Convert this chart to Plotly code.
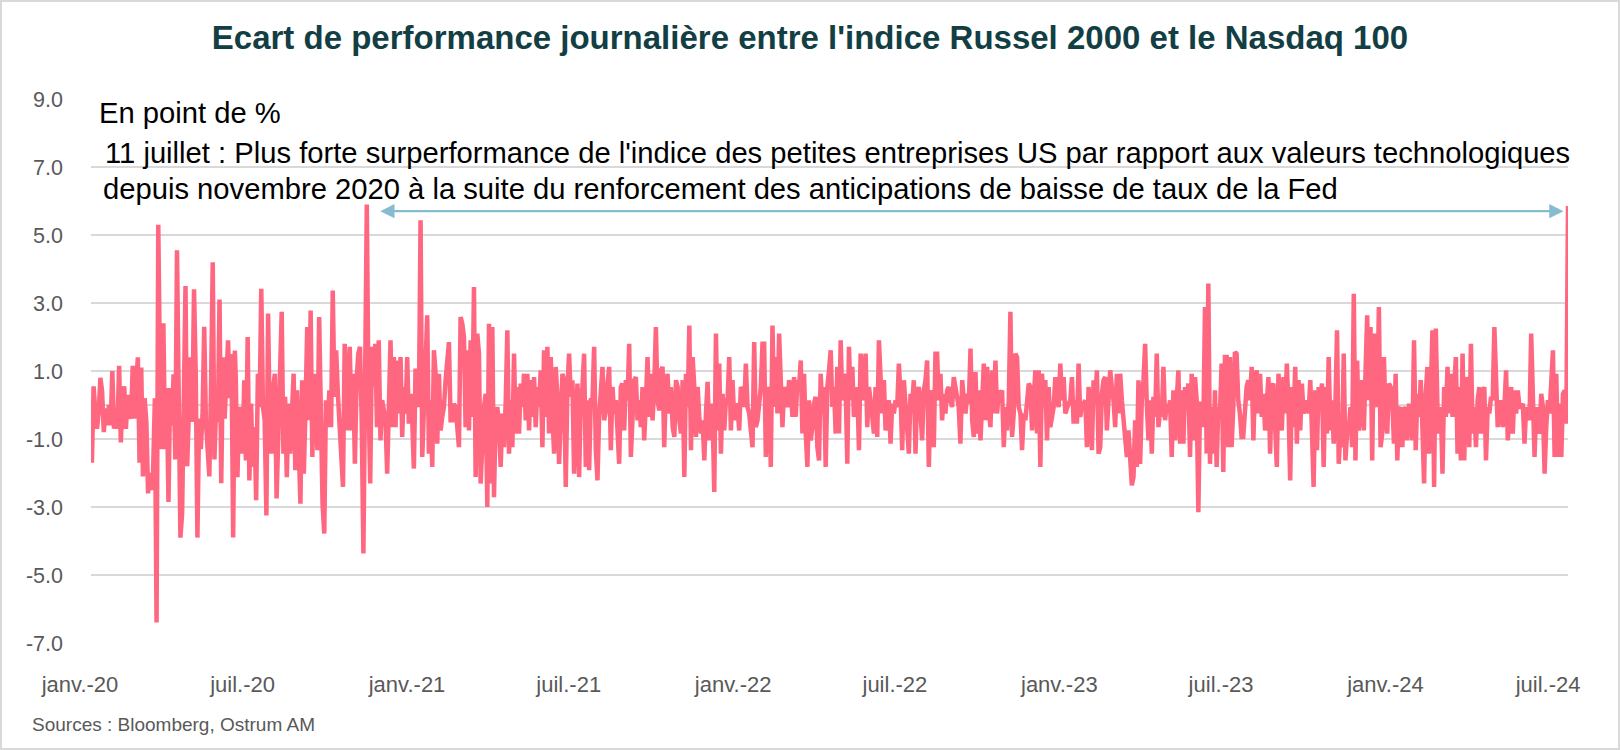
import pandas as pd
import plotly.graph_objects as go

# ---- data: daily spread Russell 2000 - Nasdaq 100 (points of %) ----
seg_a_dates = ("2020-01-02", "2020-06-10")
seg_a = [-1.7, 0.55, -0.2, -0.7, -0.2, 0.8, 0.4, -0.8, -0.1, -0.6, 0.0, -0.6, 1.0, -0.7, -0.2, -0.7,
         1.15, -1.1, 0.2, 0.55, -0.7, 0.3, -0.2, -0.4, 1.15, -0.4, 0.6, 1.4, -1.7, 1.1, -2.1, 0.2,
         -0.5, -2.6, -2.0, -2.5, -1.9, 0.2, -6.4, 5.3, 1.0, -1.3, 2.4, -1.3, 0.5, -2.85, 0.5, -0.6,
         0.9, -1.6, 4.55, -1.7, -3.9, -3.2, 0.5, 3.5, -1.8, 0.3, 1.4, -0.5, 3.4, 1.0, -3.9, -0.4,
         -1.3, -0.3, 2.3, -0.5, -1.4, -2.1, 0.5, 4.2, -1.6, 0.0, -0.5, 3.1, -2.3, 1.4, -0.4, 0.5,
         1.9, 0.2, 1.5, -3.9, 1.6]

seg_b_dates = ("2020-06-11", "2020-11-18")
seg_b = [0.82, -2.12, -0.06, -0.25, -1.43, 0.73, -1.63, 2.0, -2.22, 0.04, -1.82, -0.65, -2.8, 0.92,
         -0.06, 3.42, -0.06, -0.45, -3.25, 2.69, -0.65, -1.43, 0.53, 0.92, -2.75, -0.45, 1.71, 2.74,
         -1.43, 0.24, -2.12, 0.04, -1.43, -0.35, 0.92, -1.92, 0.43, -1.24, -2.9, 0.73, -2.02, -0.06,
         2.29, -0.45, 2.78, -1.53, 0.92, -0.25, -1.33, 2.59, -1.33, -2.9, -3.78, 0.14, -0.65, 0.43,
         -0.65, 3.37, 0.24, 1.61, 0.33, -0.84, -1.73, -2.41, 1.8, -0.06, -0.75, 1.71, -0.75, 0.92,
         -1.73, 0.73, 1.51, 1.71, -0.45, -4.37, 1.71, 5.9, 0.24, -2.31, 1.71, 0.53, 1.8, -0.65, 1.9]

seg_c_dates = ("2020-11-20", "2021-10-11")
seg_c = [-1.04, 0.14, -0.25, -0.45, -2.02, 0.24, 1.9, -0.65, 1.41, -0.65, 1.31, -0.25, 1.41, -0.94,
         0.53, -0.25, 1.41, -0.55, 0.33, -0.45, -1.87, 1.07, 0.14, -0.06, 5.43, -1.53, 0.14, 1.31,
         2.64, -1.43, 0.14, -1.82, 1.61, 0.92, -1.14, 0.92, -0.75, -0.35, -0.06, 0.73, 1.22, 1.85,
         -0.45, -0.45, 0.04, -0.06, -0.65, -1.24, 2.59, 2.39, 2.0, -0.65, 1.61, -0.75, 1.9, -0.35,
         3.47, -2.12, 2.1, 1.51, -2.31, -0.65, -0.06, 0.33, -3.0, 2.39, -2.31, 2.29, -2.71, -0.25,
         -0.06, -0.65, -1.82, -0.25, -1.24, 0.04, 2.2, -1.43, 0.14, -1.24, 1.51, -0.84, 0.53, -0.84,
         0.63, -0.06, 0.92, -0.45, 0.92, -0.75, 0.73, -0.35, 0.82, -0.65, 0.53, -0.06, 1.02, -1.24,
         1.61, -0.35, 1.71, -0.84, 1.41, -0.25, -1.43, 1.12, 0.24, -1.73, -0.35, 0.92, 0.73, -2.41,
         0.53, 1.51, 0.24, 0.73, -2.02, -0.25, 0.63, -2.12, 0.14, 0.53, 1.51, -1.82, 0.14, -1.92,
         0.14, 0.14, 1.71, -1.33, -2.22, -0.35, 0.33, 1.12, -0.45, -0.16, 0.63, 1.12, -1.33, 0.53,
         -0.25, 0.14, -0.75, -1.73, 0.53, 0.63, -0.75, 0.73, 0.14, 1.8, -1.53, -0.25, 0.73, 0.82,
         -0.45, 0.14, -0.65, 0.53, -1.04, 0.04, 1.41, -0.35, 0.92, -0.45, 0.53, 2.29, 0.14, -0.16,
         1.02, 1.12, -1.24, 0.53, 0.92, -0.25, 0.53]

seg_d_dates = ("2021-10-13", "2022-08-31")
seg_d = [-0.65, -0.94, 0.73, 0.53, -0.45, -0.84, 0.73, -2.12, 0.92, -0.06, 2.34, -1.33, 1.41, 0.53,
         -0.94, 0.53, -0.35, -0.84, -0.45, -1.63, -0.25, 0.68, -1.04, 0.04, -0.25, -2.56, 2.1, -0.75,
         1.22, -1.43, 0.33, -0.75, 0.14, 0.14, 1.41, -0.75, 0.73, -0.45, 0.04, -0.06, -0.75, 0.53,
         0.43, -0.06, 1.22, -0.06, -0.25, -0.75, -1.24, 1.85, -0.65, -0.45, 0.04, 0.53, 1.8, 1.8,
         -1.53, 0.53, 0.24, -1.82, 2.34, -0.06, 1.41, -0.25, 2.1, 0.53, -0.65, 0.53, 0.14, -0.06,
         0.73, 0.53, -0.35, 0.82, -0.35, 0.73, 0.53, 1.31, -0.84, 0.92, -0.84, -1.82, 0.14, -1.04,
         -0.65, 0.04, 0.24, -1.24, -1.63, 0.92, -0.25, 0.53, -1.82, 0.53, 1.02, 1.61, -0.06, 0.53,
         -0.84, 1.12, -0.84, 1.9, 0.14, 0.92, 0.53, -1.73, 1.71, 0.14, 1.12, -0.35, -0.06, 0.53,
         -1.33, 1.51, 0.14, 0.73, 1.51, -0.65, 0.53, 0.14, -0.25, -0.84, 0.53, -0.94, 1.9, 0.53,
         -0.25, 0.73, -0.75, -0.06, 0.14, -1.14, 0.04, -0.25, 0.14, -0.06, 1.22, 0.33, -1.33, 0.73,
         0.04, -0.65, -1.43, 0.33, 0.04, 0.73, -1.43, 0.33, 0.53, -0.25, -1.04, 0.43, 0.73, 1.31,
         -1.82, 0.14, 0.43, -1.24, 1.51, 1.51, 0.14, 0.92, -0.45, 0.33, -0.25, 0.43, 0.53, 0.14,
         -0.06, 0.82, 0.53, 0.14, -0.06, -1.14]

seg_e_dates = ("2022-09-02", "2023-07-21")
seg_e = [0.73, 0.14, -0.25, 0.33, 0.04, 1.66, -0.45, -0.94, 0.97, -0.84, 0.43, -1.04, 0.14, 1.22,
         -0.45, 1.12, -0.16, -0.65, 1.02, -0.25, 1.31, -0.25, 0.43, 0.24, 0.43, -1.24, -0.06, -0.75,
         0.14, 2.74, -0.94, -0.25, 1.51, 1.41, -0.06, -0.25, -1.33, -0.25, -0.45, 0.14, 0.63, 0.53,
         -0.75, 0.14, 1.02, -0.84, 1.02, -1.82, 0.92, -0.06, 0.73, -1.04, 0.53, -0.65, -0.25, -0.06,
         0.82, 0.14, -0.06, 1.22, 0.14, 0.82, -0.25, -0.06, 0.04, 0.14, 0.82, -0.55, 0.14, -0.55,
         1.22, -0.35, 0.04, 0.04, 0.14, -1.24, 0.53, -0.35, -1.33, 0.73, 0.14, 1.02, -1.43, -1.24,
         0.33, 0.73, 0.82, -0.75, 0.43, 1.02, 0.53, 0.14, -0.65, 0.92, -0.25, 0.92, 0.14, -0.45,
         -0.84, -1.53, -0.75, -1.82, -2.36, -2.12, -0.45, -1.82, 0.73, -1.73, 0.14, 0.73, 1.8, 0.04,
         -1.04, 0.14, -1.43, 0.24, -0.35, 1.51, -0.65, -0.16, -0.35, 1.12, -0.45, 0.04, -0.25, 0.14,
         -1.53, 0.43, -1.04, 0.14, 1.02, -1.14, 0.43, -1.14, 0.53, 0.14, 0.63, -1.53, 0.92, -1.04,
         0.82, 0.14, -3.15, 0.04, 0.04, -0.65, 2.88, -1.43, 3.57, -1.73, -0.06, -1.43, 0.43, -1.82,
         -0.06, -0.25, 1.22, -1.97, 1.41, 1.41, -1.24, 1.41, -1.24, -0.06, 1.56, 1.51, 0.14, -0.25,
         -0.94, -0.94, -0.06, 0.53, 0.73, 0.14]

seg_f_dates = ("2023-07-23", "2024-07-11")
seg_f = [1.12, -1.04, 0.73, 1.02, -0.25, 0.92, -0.35, 0.33, -0.75, 0.04, 0.82, -1.43, 0.53, 0.63,
         -0.65, -1.82, 0.92, 0.14, -0.75, 0.82, -0.25, 1.22, -0.06, -2.22, 0.53, -0.65, 1.12, -1.14,
         0.73, -0.75, 0.63, -0.25, -0.06, 0.14, -0.25, 0.73, -0.75, -2.41, 0.43, -1.33, 0.53, 0.14,
         0.63, -1.82, 0.53, -0.84, 1.41, -0.75, 0.14, -1.14, -0.06, 2.2, -1.73, -0.75, -1.24, 1.51,
         -1.63, -0.84, -0.75, -0.06, -1.24, 3.27, -1.63, 1.31, -0.75, 0.14, 0.73, -0.75, 0.73, 2.64,
         0.14, 2.29, -1.63, 2.1, 0.24, -0.06, 2.88, -1.24, -0.84, 1.41, -0.35, -0.84, 0.63, 0.53,
         0.14, -1.14, 0.92, -1.63, -0.16, -0.06, -1.24, -0.16, -0.06, -1.04, 0.04, -0.25, -1.04, 1.9,
         -1.33, 0.33, -0.35, 0.73, -0.65, -2.31, 0.33, 1.12, -1.43, 1.31, 2.2, -2.41, 2.25, -0.06,
         -0.84, -0.06, -2.02, 0.53, -0.35, 1.12, -0.25, 0.92, -0.35, 0.53, 1.41, -1.43, 0.53, -1.63,
         1.51, -1.63, 0.53, 0.82, -1.24, 1.8, -0.84, -0.06, -1.24, 0.14, 0.53, -0.84, 0.33, 0.53,
         -1.63, -0.06, -0.25, 0.24, 0.14, 2.29, 0.24, -0.65, -0.25, 0.14, -0.65, -0.06, 1.02, -1.04,
         -0.45, 0.53, -0.84, 0.43, -0.25, 0.43, -0.06, -0.06, 0.04, -1.14, -0.06, -0.25, -0.45, 2.1,
         -0.06, -1.53, -0.06, -0.65, -0.84, 0.33, -0.06, -2.02, -0.65, 0.14, -0.25, 0.53, 1.61, -1.53,
         0.92, -1.53, 0.04, -1.53, 0.33, 0.43, -0.55, 5.85]

tick_dates = ["2020-01-01", "2020-07-01", "2021-01-01", "2021-07-01", "2022-01-01",
              "2022-07-01", "2023-01-01", "2023-07-01", "2024-01-01", "2024-07-01"]
tick_labels = ["janv.-20", "juil.-20", "janv.-21", "juil.-21", "janv.-22",
               "juil.-22", "janv.-23", "juil.-23", "janv.-24", "juil.-24"]
y_ticks = [-7, -5, -3, -1, 1, 3, 5, 7, 9]

arrow_from = "2020-11-18"
arrow_to = "2024-07-06"
arrow_level = 5.7

# ---- assemble series ----
segments = [(seg_a_dates, seg_a), (seg_b_dates, seg_b), (seg_c_dates, seg_c),
            (seg_d_dates, seg_d), (seg_e_dates, seg_e), (seg_f_dates, seg_f)]
xs, ys = [], []
for (d0, d1), vals in segments:
    xs.extend(pd.date_range(d0, d1, periods=len(vals)))
    ys.extend(vals)

FONT = "Liberation Sans, Arial, sans-serif"
GRID = "#D9D9D9"
TXT = "#595959"

fig = go.Figure()
fig.add_trace(go.Scatter(x=xs, y=ys, mode="lines",
                         line=dict(color="#FF6680", width=4.5), hoverinfo="skip", showlegend=False))

# plot area in pixels: x 91..1568, y 99..643
L, R, T, B = 91, 52, 99, 107
W, H = 1620, 750
pw, ph = W - L - R, H - T - B

def px(x):
    return (x - L) / pw

def py(y):
    return (H - B - y) / ph

NOTE = dict(family=FONT, size=29.2, color="black")

fig.update_layout(
    width=W, height=H,
    margin=dict(l=L, r=R, t=T, b=B, autoexpand=False),
    paper_bgcolor="white", plot_bgcolor="white",
    title=dict(text="<b>Ecart de performance journalière entre l'indice Russel 2000 et le Nasdaq 100</b>",
               x=0.5, xref="container", xanchor="center",
               y=1 - 37 / H, yref="container", yanchor="middle",
               font=dict(family=FONT, size=33, color="#123E44")),
    xaxis=dict(type="date", range=["2020-01-01", "2024-07-11"],
               tickvals=tick_dates, ticktext=tick_labels,
               showgrid=False, zeroline=False, showline=False, ticks="",
               ticklabelstandoff=26, ticklabelshift=-11, automargin=False,
               tickfont=dict(family=FONT, size=22, color=TXT)),
    yaxis=dict(range=[-7, 9], tickvals=y_ticks, ticktext=[f"{v:.1f}" for v in y_ticks],
               showgrid=True, gridcolor=GRID, gridwidth=2,
               zeroline=True, zerolinecolor=GRID, zerolinewidth=2,
               showline=False, ticks="", ticklabelstandoff=27, automargin=False,
               tickfont=dict(family=FONT, size=21.5, color=TXT)),
    annotations=[
        dict(text="En point de %", xref="paper", yref="paper", x=px(97), y=py(113),
             xanchor="left", yanchor="middle", showarrow=False, font=NOTE),
        dict(text="11 juillet : Plus forte surperformance de l'indice des petites entreprises US par rapport aux valeurs technologiques",
             xref="paper", yref="paper", x=px(103), y=py(153),
             xanchor="left", yanchor="middle", showarrow=False, font=NOTE),
        dict(text="depuis novembre 2020 à la suite du renforcement des anticipations de baisse de taux de la Fed",
             xref="paper", yref="paper", x=px(101), y=py(189),
             xanchor="left", yanchor="middle", showarrow=False, font=NOTE),
        dict(text="Sources : Bloomberg, Ostrum AM", xref="paper", yref="paper", x=px(30), y=py(724),
             xanchor="left", yanchor="middle", showarrow=False,
             font=dict(family=FONT, size=19, color=TXT)),
        dict(text="", x=arrow_to, y=arrow_level, ax=arrow_from, ay=arrow_level,
             xref="x", yref="y", axref="x", ayref="y", showarrow=True,
             arrowhead=2, startarrowhead=2, arrowside="end+start", arrowsize=1.3,
             startarrowsize=1.3, arrowwidth=2.2, arrowcolor="#86BCD0", standoff=0, startstandoff=0),
    ],
    shapes=[dict(type="rect", xref="paper", yref="paper", x0=px(0), x1=px(W), y0=py(H), y1=py(0),
                 line=dict(color=GRID, width=4), fillcolor="rgba(0,0,0,0)", layer="above")],
)

fig.write_html("out.html", config={"displayModeBar": False},
               post_script="document.body.style.margin='0';document.body.style.overflow='hidden';")
